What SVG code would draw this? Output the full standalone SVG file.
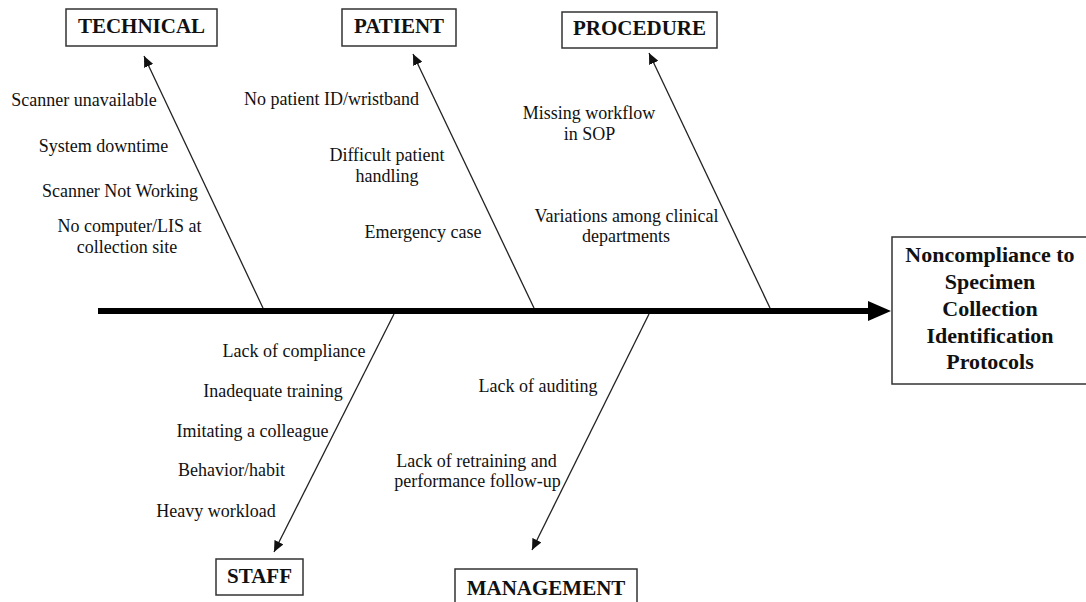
<svg xmlns="http://www.w3.org/2000/svg" width="1086" height="602" viewBox="0 0 1086 602">
<style>
.box{fill:#fff;stroke:#333;stroke-width:1.5}
.cat{font-family:"Liberation Serif",serif;font-weight:bold;font-size:21px;fill:#111;text-anchor:middle}
.eff{font-family:"Liberation Serif",serif;font-weight:bold;font-size:22px;fill:#111;text-anchor:middle}
.lbl{font-family:"Liberation Serif",serif;font-size:18px;fill:#111;text-anchor:middle}
.bone{stroke:#222;stroke-width:1.3;fill:none;marker-end:url(#ah)}
</style>
<defs>
<marker id="ah" markerUnits="userSpaceOnUse" markerWidth="12" markerHeight="10" refX="11" refY="5" orient="auto">
<path d="M0,0 L11,5 L0,10 z" fill="#111"/>
</marker>
</defs>
<rect width="1086" height="602" fill="#fff"/>
<g id="connectors">
<line x1="98" y1="311" x2="872" y2="311" stroke="#000" stroke-width="6"/>
<polygon points="868,301 891,311 868,321" fill="#000"/>
<line class="bone" x1="263" y1="308" x2="144" y2="56"/>
<line class="bone" x1="534" y1="308" x2="413" y2="54"/>
<line class="bone" x1="770" y1="308" x2="649" y2="53"/>
<line class="bone" x1="394" y1="314" x2="274" y2="552"/>
<line class="bone" x1="649" y1="314" x2="532" y2="550"/>
</g>
<g id="technical"><rect class="box" x="66" y="9" width="151" height="37"/><text class="cat" x="141.5" y="33">TECHNICAL</text></g>
<g id="patient"><rect class="box" x="342" y="9" width="114" height="37"/><text class="cat" x="399" y="33">PATIENT</text></g>
<g id="procedure"><rect class="box" x="562" y="12" width="155" height="36"/><text class="cat" x="639.5" y="35">PROCEDURE</text></g>
<g id="staff"><rect class="box" x="216" y="559" width="87" height="36"/><text class="cat" x="259.5" y="583">STAFF</text></g>
<g id="management"><rect class="box" x="455" y="569" width="182" height="40"/><text class="cat" x="546" y="595">MANAGEMENT</text></g>
<g id="effect"><rect class="box" x="892" y="237" width="198" height="147"/>
<text class="eff" x="990" y="262">Noncompliance to</text>
<text class="eff" x="990" y="289">Specimen</text>
<text class="eff" x="990" y="316">Collection</text>
<text class="eff" x="990" y="343">Identification</text>
<text class="eff" x="990" y="369">Protocols</text>
</g>
<g id="technical-causes">
<text class="lbl" x="84" y="106">Scanner unavailable</text>
<text class="lbl" x="103.5" y="152">System downtime</text>
<text class="lbl" x="120" y="197">Scanner Not Working</text>
<text class="lbl" x="129.5" y="232">No computer/LIS at</text>
<text class="lbl" x="127" y="253">collection site</text>
</g>
<g id="patient-causes">
<text class="lbl" x="331.5" y="105">No patient ID/wristband</text>
<text class="lbl" x="387" y="161">Difficult patient</text>
<text class="lbl" x="387" y="182">handling</text>
<text class="lbl" x="423" y="238">Emergency case</text>
</g>
<g id="procedure-causes">
<text class="lbl" x="589" y="119">Missing workflow</text>
<text class="lbl" x="589.5" y="140">in SOP</text>
<text class="lbl" x="626.5" y="222">Variations among clinical</text>
<text class="lbl" x="626" y="242">departments</text>
</g>
<g id="staff-causes">
<text class="lbl" x="294" y="357">Lack of compliance</text>
<text class="lbl" x="273" y="397">Inadequate training</text>
<text class="lbl" x="252.5" y="437">Imitating a colleague</text>
<text class="lbl" x="231.5" y="476">Behavior/habit</text>
<text class="lbl" x="216" y="517">Heavy workload</text>
</g>
<g id="management-causes">
<text class="lbl" x="538" y="392">Lack of auditing</text>
<text class="lbl" x="476.5" y="467">Lack of retraining and</text>
<text class="lbl" x="477.5" y="487">performance follow-up</text>
</g>
</svg>
